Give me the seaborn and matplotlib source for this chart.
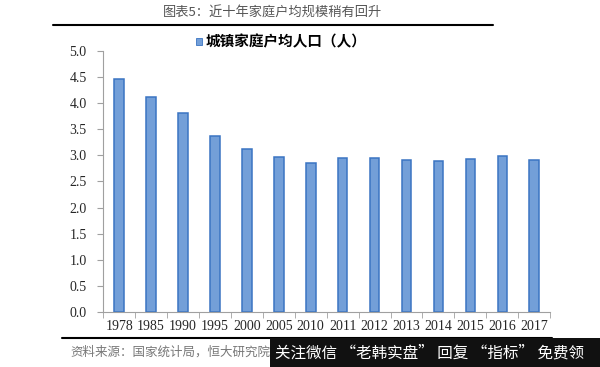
import numpy as np
import pandas as pd
import matplotlib
matplotlib.use("Agg")
import matplotlib.pyplot as plt
import seaborn as sns

years = ['1978', '1985', '1990', '1995', '2000', '2005', '2010',
         '2011', '2012', '2013', '2014', '2015', '2016', '2017']
household_size = [4.46, 4.12, 3.81, 3.37, 3.12, 2.97, 2.85,
                  2.95, 2.95, 2.91, 2.89, 2.93, 2.98, 2.91]
y_ticks = [0.0, 0.5, 1.0, 1.5, 2.0, 2.5, 3.0, 3.5, 4.0, 4.5, 5.0]

sns.set_style("white")
plt.rcParams['font.family'] = ['Liberation Serif', 'Noto Sans CJK SC', 'DejaVu Sans']

df = pd.DataFrame({'year': years, 'size': household_size})

fig = plt.figure(figsize=(6.0, 3.67), dpi=100)
ax = fig.add_axes([0.172, 0.15, 0.745, 0.711])

sns.barplot(data=df, x='year', y='size', color='#739fd8', width=0.30,
            edgecolor='#3a74c2', linewidth=1.1, saturation=1, ax=ax)

ax.set_ylim(0, 5.0)
ax.set_xlim(-0.5, len(years) - 0.5)
ax.set_yticks(y_ticks)
ax.set_yticklabels([f'{v:.1f}' for v in y_ticks], fontsize=10)
ax.set_xlabel('')
ax.set_ylabel('')
ax.tick_params(axis='x', length=0, labelsize=10, pad=6)
ax.tick_params(axis='y', length=4, color='#a0a0a0', left=True, pad=8)

# Excel-style ticks between categories
ax.set_xticks(np.arange(-0.5, len(years), 1.0), minor=True)
ax.tick_params(axis='x', which='minor', length=4, color='#a0a0a0', bottom=True)

for s in ['top', 'right']:
    ax.spines[s].set_visible(False)
for s in ['left', 'bottom']:
    ax.spines[s].set_color('#a0a0a0')
    ax.spines[s].set_linewidth(0.8)

# header
fig.text(0.455, 0.963, '图表5：近十年家庭户均规模稍有回升', ha='center', va='center',
         fontsize=9.5, color='#555555', family=['Noto Sans CJK SC', 'DejaVu Sans'])
fig.add_artist(plt.Line2D([0.088, 0.822], [0.932, 0.932], color='black', lw=1.5))

# legend
fig.patches.append(plt.Rectangle((0.326, 0.877), 0.011, 0.019, transform=fig.transFigure,
                                 facecolor='#739fd8', edgecolor='#3a74c2', lw=0.6))
fig.text(0.342, 0.887, '城镇家庭户均人口（人）', ha='left', va='center',
         fontsize=10.5, fontweight='bold', color='black',
         family=['Noto Sans CJK SC', 'DejaVu Sans'])

# footer
fig.add_artist(plt.Line2D([0.103, 0.92], [0.08, 0.08], color='black', lw=1.5))
fig.text(0.118, 0.04, '资料来源：国家统计局，恒大研究院', ha='left', va='center',
         fontsize=9, color='#777777', style='italic',
         family=['Noto Sans CJK SC', 'DejaVu Sans'])

# watermark band
fig.patches.append(plt.Rectangle((0.45, 0.0), 0.55, 0.078, transform=fig.transFigure,
                                 facecolor='#111111', edgecolor='none', zorder=5))
fig.text(0.458, 0.037, '关注微信 “老韩实盘” 回复 “指标” 免费领', ha='left', va='center',
         fontsize=11.2, color='white', zorder=6,
         family=['Noto Sans CJK SC', 'DejaVu Sans'])

fig.savefig('out.png', dpi=100)
